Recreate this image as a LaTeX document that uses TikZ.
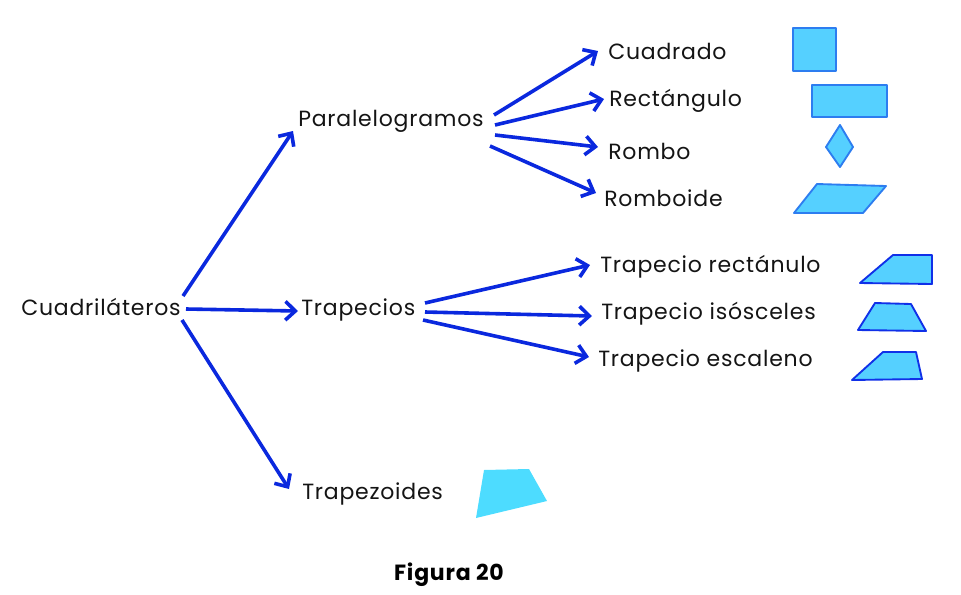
\documentclass[tikz,border=0pt]{standalone}
\usepackage{fontspec}
\setmainfont{Poppins}[LetterSpace=3.5]
\usetikzlibrary{arrows.meta}
\definecolor{arrblue}{RGB}{10,40,222}
\definecolor{shfill}{RGB}{85,208,255}
\definecolor{shline}{RGB}{45,125,240}
\definecolor{trline}{RGB}{16,48,232}
\definecolor{tzfill}{RGB}{77,220,255}
\tikzset{
  lbl/.style={anchor=west,inner sep=0pt,font=\fontsize{16.5}{19}\selectfont,text=black!92},
  arr/.style={draw=arrblue,line width=2.7pt,-{Straight Barb[length=7.5pt,width=14pt,line width=2.7pt]}},
  para/.style={fill=shfill,draw=shline,line width=1.4pt,line join=round},
  trap/.style={fill=shfill,draw=trline,line width=1.4pt,line join=round},
}
\begin{document}
\begin{tikzpicture}[x=0.75pt,y=-0.75pt]
\useasboundingbox (0,0) rectangle (961,594);
% labels
\node[lbl] (cua) at (21,307) {Cuadriláteros};
\node[lbl] (par) at (298,121) {Paralelogramos};
\node[lbl] (tra) at (301,310) {Trapecios};
\node[lbl] (tzd) at (302,494) {Trapezoides};
\node[lbl] (cdo) at (608,51) {Cuadrado};
\node[lbl] (rec) at (609,101) {Rectángulo};
\node[lbl] (rom) at (608,151) {Rombo};
\node[lbl] (rbd) at (604,198) {Romboide};
\node[lbl] (trr) at (600,267) {Trapecio rectánulo};
\node[lbl] (tri) at (601,314) {Trapecio isósceles};
\node[lbl] (tre) at (598,361) {Trapecio escaleno};
\node[inner sep=0pt,font=\fontsize{16.5}{19}\selectfont\bfseries] (fig) at (449,575) {Figura 20};
% arrows level 1
\draw[arr] ([shift={(162,-11)}]cua.west) -- ([shift={(-5,10)}]par.west);
\draw[arr] ([shift={(165,2)}]cua.west) -- ([shift={(-3,1)}]tra.west);
\draw[arr] ([shift={(161,13)}]cua.west) -- ([shift={(-13,-5)}]tzd.west);
% arrows from Paralelogramos
\draw[arr] ([shift={(196,-6)}]par.west) -- ([shift={(-10,0)}]cdo.west);
\draw[arr] ([shift={(197,4)}]par.west) -- ([shift={(-5,-2)}]rec.west);
\draw[arr] ([shift={(197,14)}]par.west) -- ([shift={(-10,-4)}]rom.west);
\draw[arr] ([shift={(192,25)}]par.west) -- ([shift={(-8,-5)}]rbd.west);
% arrows from Trapecios
\draw[arr] ([shift={(124,-7)}]tra.west) -- ([shift={(-10,-2)}]trr.west);
\draw[arr] ([shift={(124,2)}]tra.west) -- ([shift={(-9,2)}]tri.west);
\draw[arr] ([shift={(122,10)}]tra.west) -- ([shift={(-9,-4)}]tre.west);
% shapes
\draw[para] (793,28) rectangle (836,71);
\draw[para] (812,85) rectangle (887,117);
\draw[para] (840,125) -- (853,147) -- (840,167) -- (826,147) -- cycle;
\draw[para] (817,184) -- (886,186) -- (863,213) -- (794,213) -- cycle;
\draw[trap] (893,255) -- (932,255) -- (932,284) -- (860,283) -- cycle;
\draw[trap] (875,303) -- (911,304) -- (926,331) -- (858,330) -- cycle;
\draw[trap] (883,352) -- (916,352) -- (922,379) -- (852,380) -- cycle;
\fill[tzfill] (484,470) -- (529,469) -- (547,501) -- (476,518) -- cycle;
\end{tikzpicture}
\end{document}
